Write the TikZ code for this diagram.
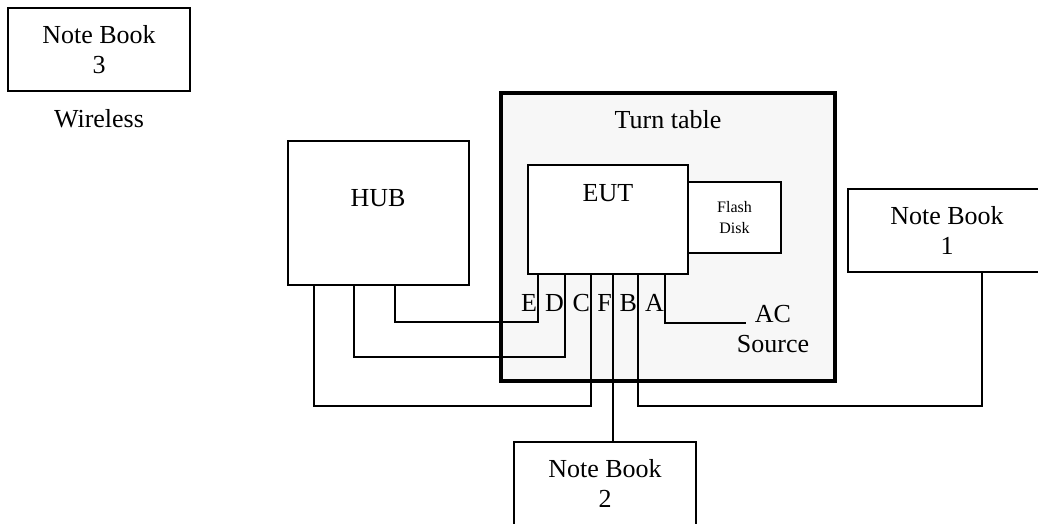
\documentclass[tikz,border=0pt]{standalone}
\usepackage{fontspec}
\setmainfont{Liberation Serif}
\usetikzlibrary{positioning,calc}
\definecolor{table}{HTML}{F7F7F7}

\begin{document}
\begin{tikzpicture}[
  x=1pt, y=-1pt,
  font=\fontsize{26}{30}\selectfont,
  box/.style={draw, line width=1.8pt, fill=white, inner sep=0pt, align=center},
  cable/.style={line width=1.8pt},
  txt/.style={inner sep=0pt, align=center},
  port/.style={anchor=east, inner sep=1pt}
]
\useasboundingbox (0,0) rectangle (1038,523);

% Turn table
\node[draw, line width=4pt, fill=table, minimum width=334pt, minimum height=288pt] (table) at (668,237) {};
\node[txt] (tabletxt) at (668,120) {Turn table};

% Equipment
\node[box, minimum width=182pt, minimum height=83pt] (nb3) at (99,49.5) {Note Book\\3};
\node[txt] (wireless) at (99,119) {Wireless};
\node[box, minimum width=181pt, minimum height=144pt] (hub) at (378.5,213) {};
\node[txt] (hubtxt) at (378,198) {HUB};
\node[box, minimum width=160pt, minimum height=109pt] (eut) at (608,219.5) {};
\node[txt] (euttxt) at (608,193) {EUT};
\node[box, minimum width=93pt, minimum height=71pt, font=\fontsize{16}{21}\selectfont] (flash) at (734.5,217.5) {Flash\\Disk};
\node[box, minimum width=198pt, minimum height=83pt] (nb1) at (947,230.5) {Note Book\\1};
\node[box, minimum width=182pt, minimum height=83pt] (nb2) at (605,483.5) {Note Book\\2};

% Ports
\foreach \p/\dx/\t in {pe/11/E, pd/38/D, pc/64/C, pf/86/F, pb/111/B, pa/138/A}{
  \coordinate (\p) at ([xshift=\dx pt]eut.south west);
  \node[port] (lbl\p) at ([yshift=-28pt]\p) {\t};
}
\coordinate (ac) at ($(pa)+(81,48)$);
\node[txt] (actxt) at (773,329) {AC\\Source};

% Cables
\draw[cable] (pe) -- ++(0,47) -| ([xshift=16.5pt]hub.south);
\draw[cable] (pd) -- ++(0,82) -| ([xshift=-24.5pt]hub.south);
\draw[cable] (pc) -- ++(0,131) -| ([xshift=-64.5pt]hub.south);
\draw[cable] (pf) -- (pf |- nb2.north);
\draw[cable] (pb) -- ++(0,131) -| ([xshift=35pt]nb1.south);
\draw[cable] (pa) |- (ac);
\end{tikzpicture}
\end{document}
